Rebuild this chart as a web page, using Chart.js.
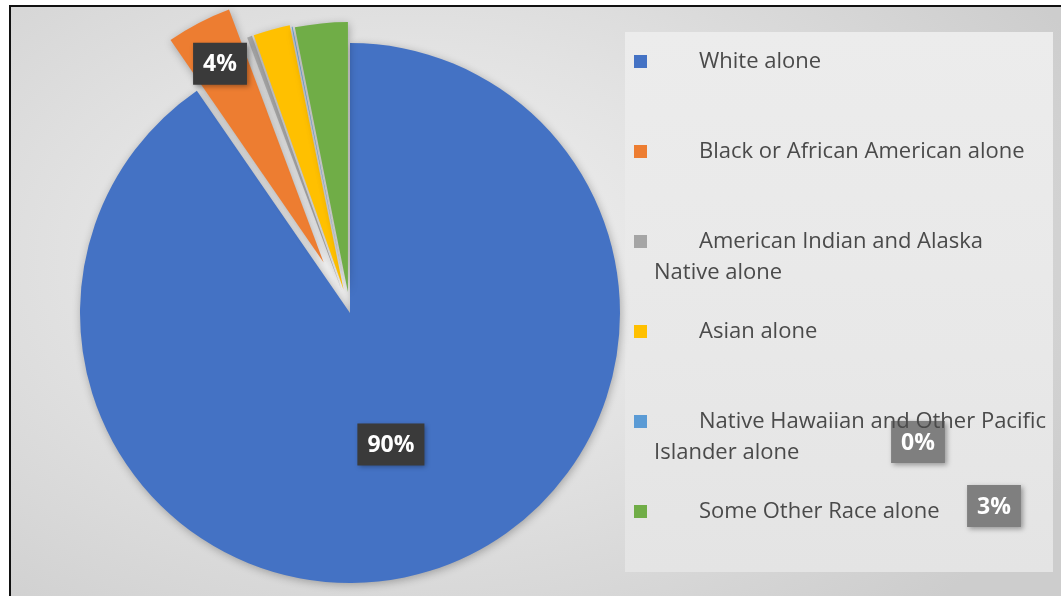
<!DOCTYPE html>
<html>
<head>
<meta charset="utf-8">
<script src="https://cdn.jsdelivr.net/npm/chart.js@4/dist/chart.umd.min.js"></script>
<style>
  html, body { margin: 0; padding: 0; background: #fff; overflow: hidden; }
  #frame {
    position: absolute; left: 9px; top: 5px; width: 1060px; height: 600px;
    border-top: 2px solid #111; border-left: 2px solid #111;
    background: radial-gradient(ellipse 70% 80% at 38% 42%, #f1f1f1 0%, #e2e2e2 45%, #cdcdcd 100%);
  }
  #panel {
    position: absolute; left: 625px; top: 32px; width: 428px; height: 540px;
    background: linear-gradient(180deg, #ececec 0%, #e8e8e8 60%, #e4e4e4 100%);
  }
  #wrap { position: absolute; left: 0; top: 0; width: 1061px; height: 596px; }
  #legend {
    position: absolute; left: 654px; top: 44px; width: 405px;
    font-family: "Open Sans", sans-serif; font-size: 22px; color: #4a4a4a;
  }
  .item { height: 90px; line-height: 31px; text-indent: -20px; white-space: nowrap; }
  .sw { display: inline-block; width: 13px; height: 13px; margin-right: 52px; vertical-align: 0px; }
</style>
</head>
<body>
<div id="frame"></div>
<div id="panel"></div>
<div id="wrap"><canvas id="raceChart"></canvas></div>
<div id="legend"></div>
<script>
const categories = [
  'White alone',
  'Black or African American alone',
  ['American Indian and Alaska', 'Native alone'],
  'Asian alone',
  ['Native Hawaiian and Other Pacific', 'Islander alone'],
  'Some Other Race alone'
];
const shares = [90.4, 3.9, 0.3, 2.2, 0.05, 3.15];
const colors = ['#4472C4', '#ED7D31', '#A5A5A5', '#FFC000', '#5B9BD5', '#70AD47'];
// how far each slice is pulled out of the pie
const explode = [0, 57, 24, 24, 22, 21];
// which slices get a percentage box
const shownLabels = [0, 1, 4, 5];
const labelRadius = [0.51, 0.83, 0, 0, 0, 0];
// boxes that were dragged into the legend area
const movedLabels = { 4: [918, 442], 5: [994, 506] };

// legend
const legendEl = document.getElementById('legend');
categories.forEach((name, i) => {
  const div = document.createElement('div');
  div.className = 'item';
  const sw = document.createElement('span');
  sw.className = 'sw';
  sw.style.background = colors[i];
  div.appendChild(sw);
  const lines = Array.isArray(name) ? name : [name];
  lines.forEach((line, k) => {
    if (k > 0) div.appendChild(document.createElement('br'));
    div.appendChild(document.createTextNode(line));
  });
  legendEl.appendChild(div);
});

const explodePlugin = {
  id: 'explode',
  beforeDatasetDraw(chart, args) {
    const ctx = chart.ctx;
    args.meta.data.forEach((arc, i) => {
      const mid = (arc.startAngle + arc.endAngle) / 2;
      ctx.save();
      ctx.shadowColor = 'rgba(0,0,0,0.28)';
      ctx.shadowBlur = 9;
      ctx.shadowOffsetX = 1;
      ctx.shadowOffsetY = 2;
      ctx.translate(Math.cos(mid) * explode[i], Math.sin(mid) * explode[i]);
      arc.draw(ctx);
      ctx.restore();
    });
    return false;
  }
};

const labelPlugin = {
  id: 'pctLabels',
  afterDatasetsDraw(chart) {
    const ctx = chart.ctx;
    const arcs = chart.getDatasetMeta(0).data;
    ctx.save();
    ctx.font = 'bold 23px "Open Sans", sans-serif';
    ctx.textAlign = 'center';
    ctx.textBaseline = 'middle';
    shownLabels.forEach(i => {
      const arc = arcs[i];
      const p = arc.getProps(['x', 'y', 'startAngle', 'endAngle', 'outerRadius']);
      let x, y, fill;
      if (movedLabels[i]) {
        [x, y] = movedLabels[i];
        fill = '#7f7f7f';
      } else {
        const mid = (p.startAngle + p.endAngle) / 2;
        const d = explode[i] + p.outerRadius * labelRadius[i];
        x = p.x + Math.cos(mid) * d;
        y = p.y + Math.sin(mid) * d;
        fill = '#3a3a3a';
      }
      const txt = Math.round(shares[i]) + '%';
      const w = ctx.measureText(txt).width + 20;
      const h = 42;
      ctx.save();
      ctx.shadowColor = 'rgba(0,0,0,0.35)';
      ctx.shadowBlur = 5;
      ctx.shadowOffsetX = 2;
      ctx.shadowOffsetY = 2;
      ctx.fillStyle = fill;
      ctx.fillRect(x - w / 2, y - h / 2, w, h);
      ctx.restore();
      ctx.fillStyle = '#ffffff';
      ctx.fillText(txt, x, y + 1);
    });
    ctx.restore();
  }
};

new Chart(document.getElementById('raceChart'), {
  type: 'pie',
  data: {
    labels: categories,
    datasets: [{
      data: shares,
      backgroundColor: colors,
      borderWidth: 0
    }]
  },
  options: {
    responsive: true,
    maintainAspectRatio: false,
    animation: false,
    layout: { padding: { top: 43, bottom: 13, left: 80, right: 441 } },
    plugins: {
      legend: { display: false },
      tooltip: { enabled: false }
    }
  },
  plugins: [explodePlugin, labelPlugin]
});
</script>
</body>
</html>
